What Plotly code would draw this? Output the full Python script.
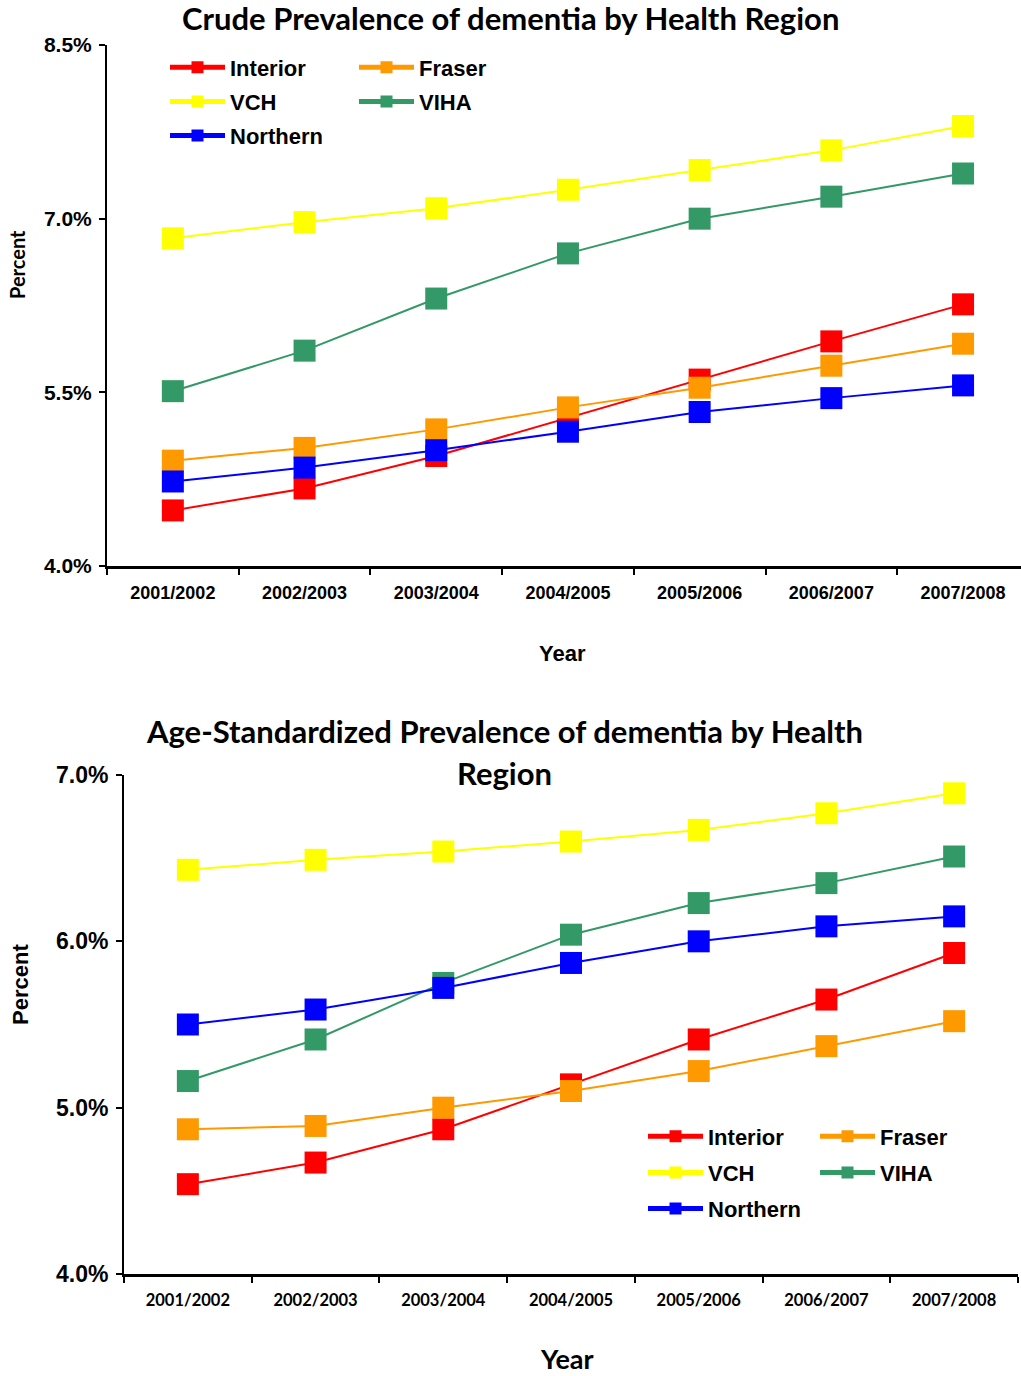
import plotly.graph_objects as go

# Fiscal years on the x axis
years = ["2001/2002", "2002/2003", "2003/2004", "2004/2005",
         "2005/2006", "2006/2007", "2007/2008"]

regions = ["Interior", "Fraser", "VCH", "VIHA", "Northern"]
colors = {"Interior": "#FF0000", "Fraser": "#FF9900", "VCH": "#FFFF00",
          "VIHA": "#339966", "Northern": "#0000FF"}

# Crude prevalence (%)
crude_interior = [4.48, 4.67, 4.95, 5.28, 5.61, 5.94, 6.26]
crude_fraser = [4.91, 5.02, 5.18, 5.37, 5.54, 5.73, 5.92]
crude_vch = [6.83, 6.97, 7.09, 7.25, 7.42, 7.59, 7.80]
crude_viha = [5.51, 5.86, 6.31, 6.70, 7.00, 7.19, 7.39]
crude_northern = [4.73, 4.85, 5.00, 5.16, 5.33, 5.45, 5.56]

# Age-standardized prevalence (%)
std_interior = [4.54, 4.67, 4.87, 5.14, 5.41, 5.65, 5.93]
std_fraser = [4.87, 4.89, 5.00, 5.10, 5.22, 5.37, 5.52]
std_vch = [6.43, 6.49, 6.54, 6.60, 6.67, 6.77, 6.89]
std_viha = [5.16, 5.41, 5.75, 6.04, 6.23, 6.35, 6.51]
std_northern = [5.50, 5.59, 5.72, 5.87, 6.00, 6.09, 6.15]

crude = {"Interior": crude_interior, "Fraser": crude_fraser, "VCH": crude_vch,
         "VIHA": crude_viha, "Northern": crude_northern}
std = {"Interior": std_interior, "Fraser": std_fraser, "VCH": std_vch,
       "VIHA": std_viha, "Northern": std_northern}

crude_ticks = [4.0, 5.5, 7.0, 8.5]
std_ticks = [4.0, 5.0, 6.0, 7.0]

# legend column for each region (two columns per chart)
column = {"Interior": 0, "Fraser": 1, "VCH": 0, "VIHA": 1, "Northern": 0}

W, H = 1021, 1376
ARIAL = "Liberation Sans, Arial, sans-serif"
CALIBRI = "Lato, Carlito, Calibri, sans-serif"

fig = go.Figure()

for name in regions:
    fig.add_trace(go.Scatter(
        x=years, y=crude[name], name=name, mode="lines+markers",
        xaxis="x", yaxis="y",
        line=dict(color=colors[name], width=2),
        marker=dict(symbol="square", size=22, color=colors[name], line=dict(width=0)),
        legend="legend" if column[name] == 0 else "legend2",
        legendgroup="c_" + name,
    ))

for name in regions:
    fig.add_trace(go.Scatter(
        x=years, y=std[name], name=name, mode="lines+markers",
        xaxis="x2", yaxis="y2",
        line=dict(color=colors[name], width=2),
        marker=dict(symbol="square", size=22, color=colors[name], line=dict(width=0)),
        legend="legend3" if column[name] == 0 else "legend4",
        legendgroup="s_" + name,
    ))


def px_y(y):
    return 1 - y / H


def px_x(x):
    return x / W


def pct(vals):
    return ["%.1f%%" % v for v in vals]


axis_common = dict(showgrid=False, zeroline=False, showline=True, linecolor="black",
                   ticks="outside", tickcolor="black", tickwidth=2, ticklen=6,
                   automargin=False)

leg_common = dict(orientation="v", xanchor="left", yanchor="top",
                  bgcolor="rgba(0,0,0,0)", borderwidth=0, itemwidth=55,
                  itemsizing="constant", traceorder="grouped",
                  font=dict(family=ARIAL, size=22, color="black", weight="bold"))

fig.update_layout(
    template="none",
    width=W, height=H,
    margin=dict(l=0, r=0, t=0, b=0, autoexpand=False),
    paper_bgcolor="white", plot_bgcolor="white",
    showlegend=True,
    xaxis=dict(axis_common, type="category", domain=[px_x(107), 1.0],
               range=[-0.5, 6.44], tickson="boundaries", linewidth=3,
               tickfont=dict(family=ARIAL, size=18, color="black", weight="bold"),
               ticklabelstandoff=8, anchor="y"),
    yaxis=dict(axis_common, domain=[px_y(566), px_y(45)], range=[4.0, 8.5],
               tickvals=crude_ticks, ticktext=pct(crude_ticks),
               linewidth=2, tickfont=dict(family=ARIAL, size=21, color="black", weight="bold"),
               ticklabelstandoff=3, anchor="x"),
    xaxis2=dict(axis_common, type="category", domain=[px_x(124), px_x(1018)],
                range=[-0.5, 6.5], tickson="boundaries", linewidth=3,
                tickfont=dict(family=CALIBRI, size=16.5, color="black", weight="bold"),
                ticklabelstandoff=9, anchor="y2"),
    yaxis2=dict(axis_common, domain=[px_y(1274), px_y(775)], range=[4.0, 7.0],
                tickvals=std_ticks, ticktext=pct(std_ticks),
                linewidth=2, tickfont=dict(family=ARIAL, size=23, color="black", weight="bold"),
                ticklabelstandoff=3, anchor="x2"),
    legend=dict(leg_common, x=px_x(165), y=px_y(46.5), tracegroupgap=2.5),
    legend2=dict(leg_common, x=px_x(354), y=px_y(46.5), tracegroupgap=2.5),
    legend3=dict(leg_common, x=px_x(643), y=px_y(1115.5), tracegroupgap=4.5),
    legend4=dict(leg_common, x=px_x(815), y=px_y(1115.5), tracegroupgap=4.5),
)

annotations = [
    dict(text="<b>Crude Prevalence of dementia by Health Region</b>",
         x=px_x(510), y=px_y(18), font=dict(family=CALIBRI, size=31, color="black")),
    dict(text="<b>Age-Standardized Prevalence of dementia by Health</b>",
         x=px_x(504), y=px_y(731), font=dict(family=CALIBRI, size=31, color="black")),
    dict(text="<b>Region</b>",
         x=px_x(504), y=px_y(773), font=dict(family=CALIBRI, size=31, color="black")),
    dict(text="<b>Percent</b>", x=px_x(17), y=px_y(265), textangle=-90,
         font=dict(family=CALIBRI, size=20, color="black")),
    dict(text="<b>Percent</b>", x=px_x(20), y=px_y(985), textangle=-90,
         font=dict(family=ARIAL, size=22, color="black")),
    dict(text="<b>Year</b>", x=px_x(562), y=px_y(653),
         font=dict(family=ARIAL, size=22, color="black")),
    dict(text="<b>Year</b>", x=px_x(567), y=px_y(1358),
         font=dict(family=CALIBRI, size=27, color="black")),
]
for a in annotations:
    a.update(xref="paper", yref="paper", showarrow=False,
             xanchor="center", yanchor="middle")
fig.update_layout(annotations=annotations)

fig.write_html("out.html")
